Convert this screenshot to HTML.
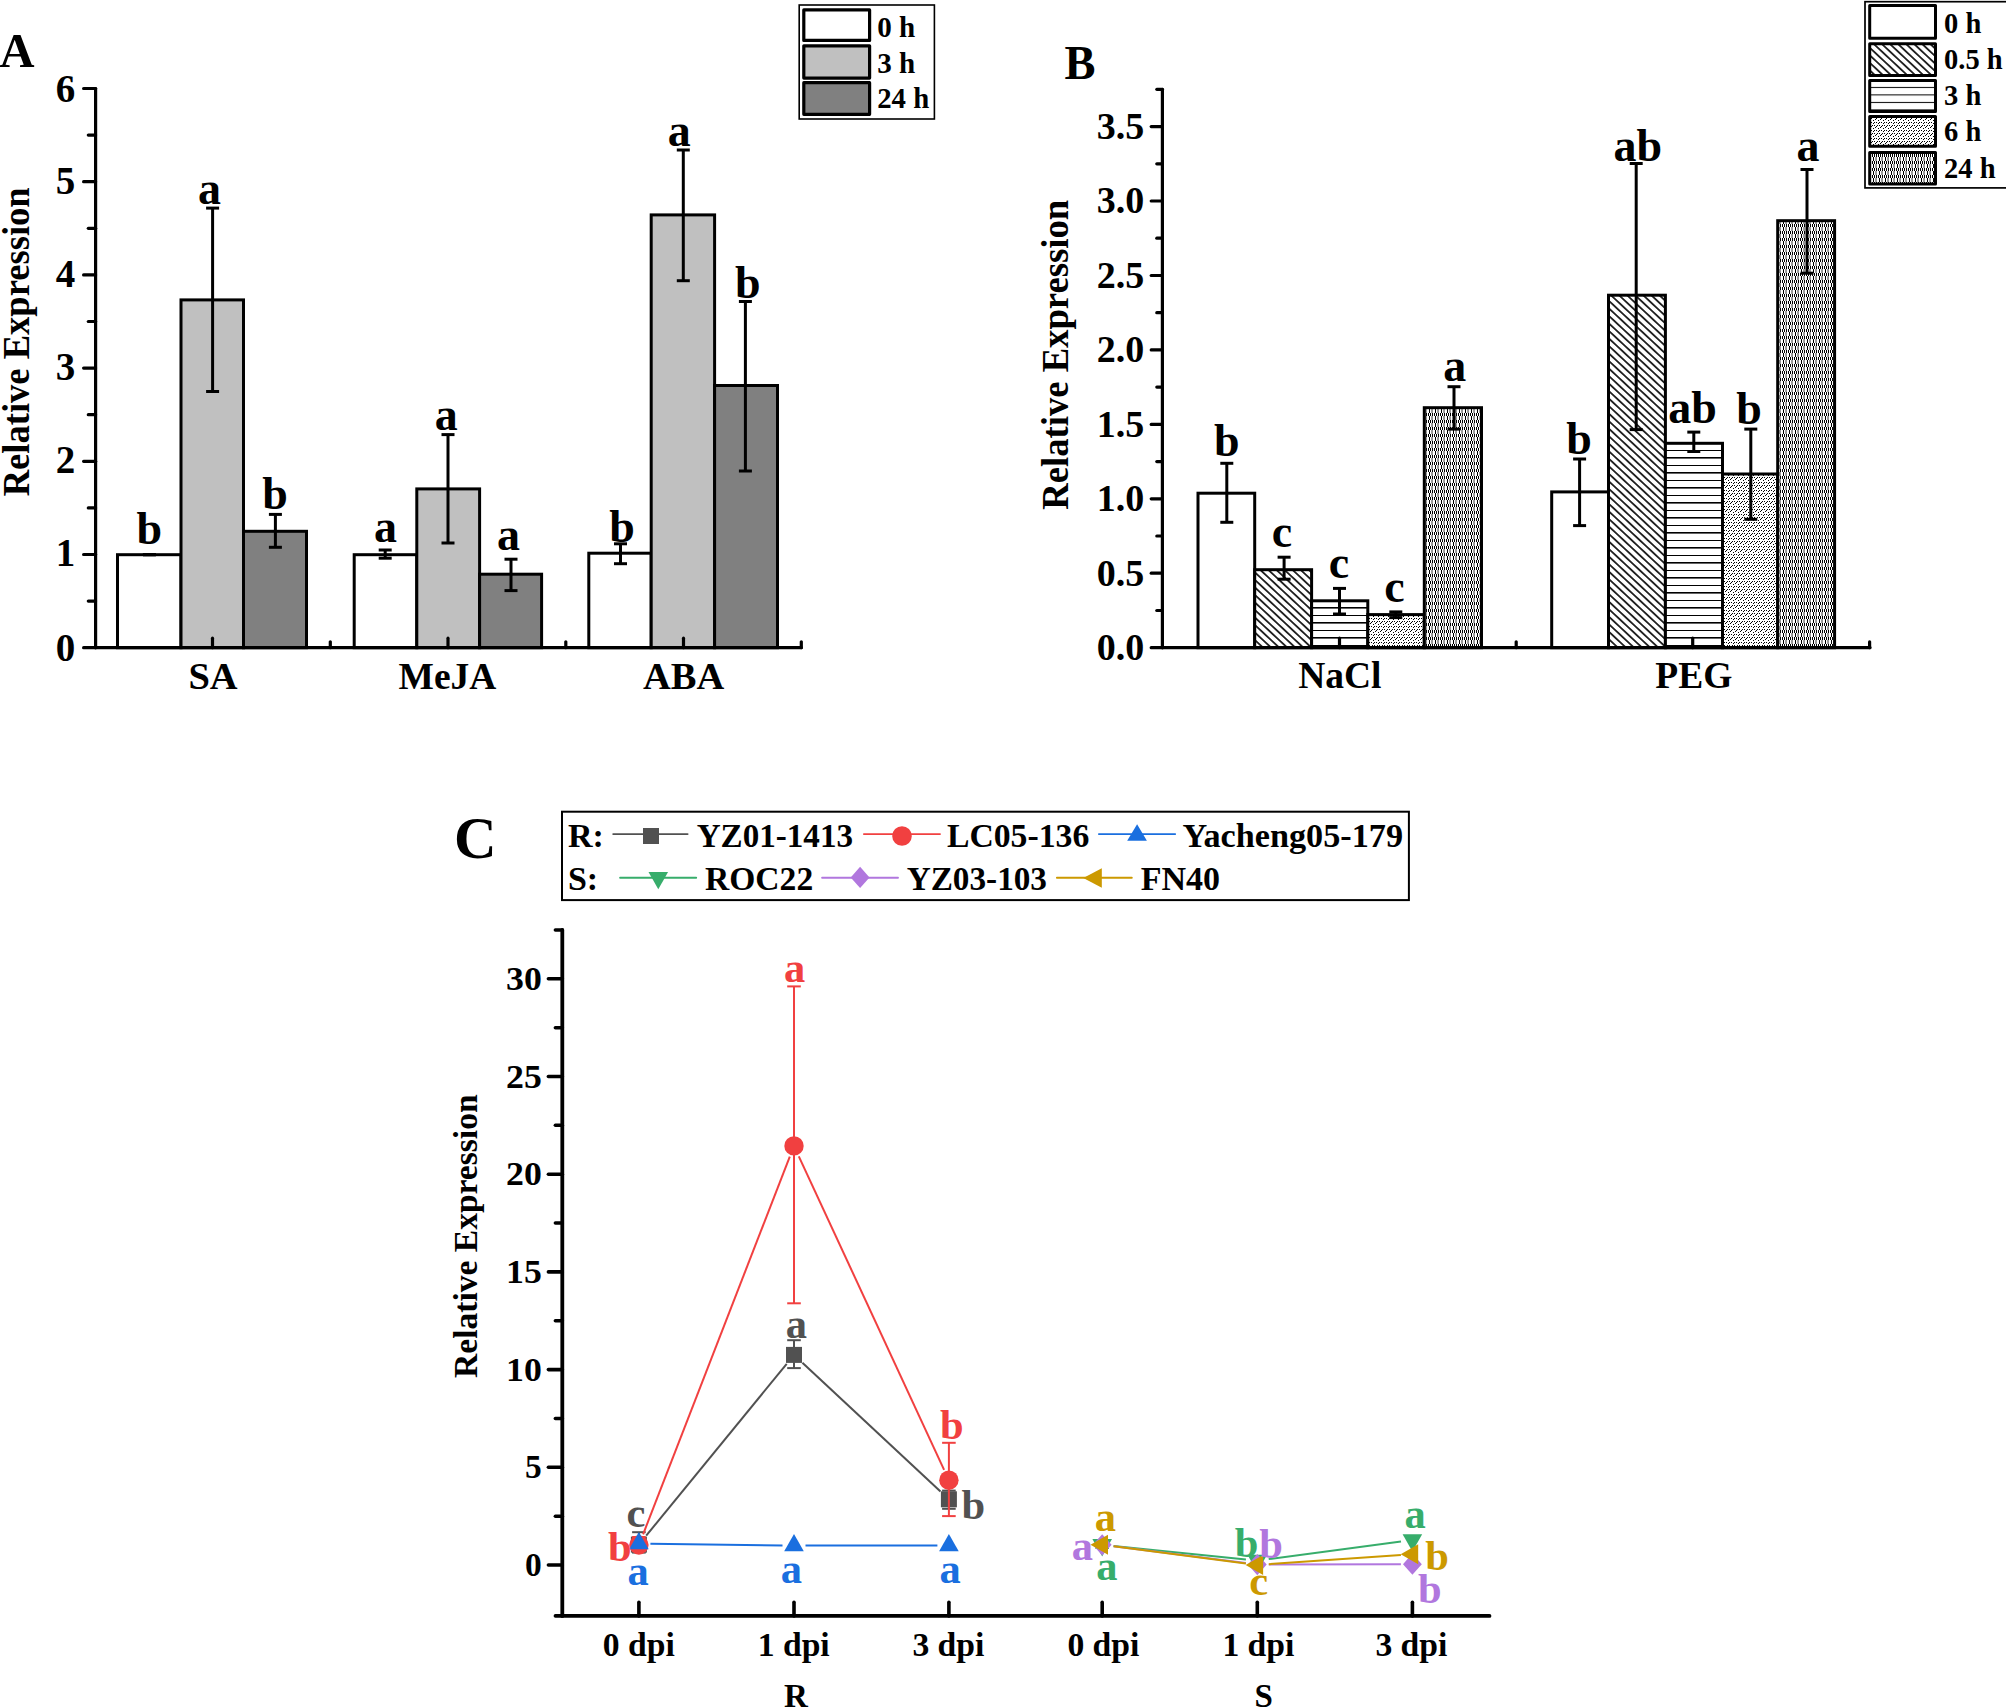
<!DOCTYPE html>
<html lang="en">
<head>
<meta charset="utf-8">
<title>Relative Expression figure</title>
<style>
html,body{margin:0;padding:0;background:#fff;}
body{width:2006px;height:1707px;overflow:hidden;}
svg{display:block;}
svg text{font-family:"Liberation Serif", serif;font-weight:bold;}
</style>
</head>
<body>
<svg width="2006" height="1707" viewBox="0 0 2006 1707">
<rect x="0" y="0" width="2006" height="1707" fill="#fff"/>
<defs>
<pattern id="pDiag" width="12" height="5.5" patternUnits="userSpaceOnUse" patternTransform="rotate(43)">
<rect width="12" height="5.5" fill="#fff"/><line x1="0" y1="2.75" x2="12" y2="2.75" stroke="#000" stroke-width="1.6"/></pattern>
<pattern id="pHor" width="12" height="15" patternUnits="userSpaceOnUse" patternTransform="translate(0,7)">
<rect width="12" height="15" fill="#fff"/><rect x="0" y="0" width="12" height="1.6" fill="#000"/><rect x="0" y="8" width="12" height="1" fill="#000"/></pattern>
<pattern id="pHorL" width="12" height="7.5" patternUnits="userSpaceOnUse" patternTransform="translate(0,4.4)">
<rect width="12" height="7.5" fill="#fff"/><rect x="0" y="0" width="12" height="1" fill="#000"/></pattern>
<pattern id="pDot" width="5" height="8" patternUnits="userSpaceOnUse">
<rect width="5" height="8" fill="#fff"/><g fill="#000" shape-rendering="crispEdges"><rect x="0" y="7" width="1" height="1"/><rect x="1" y="6" width="1" height="1"/><rect x="2" y="5" width="1" height="1"/><rect x="3" y="3" width="1" height="1"/><rect x="4" y="2" width="1" height="1"/><rect x="1" y="2" width="1" height="1"/><rect x="3" y="0" width="1" height="1"/><rect x="4" y="5" width="1" height="1"/></g></pattern>
<pattern id="pChk" width="6" height="7" patternUnits="userSpaceOnUse">
<rect width="6" height="7" fill="#fff"/><g fill="#000"><rect x="0" y="0" width="1" height="3"/><rect x="2" y="0" width="1" height="3"/><rect x="4" y="0" width="1" height="3"/><rect x="1" y="3" width="1" height="4"/><rect x="3.6" y="3" width="0.8" height="4"/></g></pattern>
</defs>
<g id="panelA">
<rect x="117.5" y="554.7" width="63.5" height="93.0" fill="#fff" stroke="#000" stroke-width="3.0"/>
<rect x="181.0" y="299.9" width="62.5" height="347.8" fill="#c0c0c0" stroke="#000" stroke-width="3.0"/>
<rect x="243.5" y="531.3" width="63.0" height="116.4" fill="#808080" stroke="#000" stroke-width="3.0"/>
<rect x="354.2" y="554.7" width="62.6" height="93.0" fill="#fff" stroke="#000" stroke-width="3.0"/>
<rect x="416.8" y="488.9" width="62.8" height="158.8" fill="#c0c0c0" stroke="#000" stroke-width="3.0"/>
<rect x="479.6" y="574.2" width="62.0" height="73.5" fill="#808080" stroke="#000" stroke-width="3.0"/>
<rect x="588.8" y="553.2" width="62.4" height="94.5" fill="#fff" stroke="#000" stroke-width="3.0"/>
<rect x="651.2" y="214.9" width="63.4" height="432.8" fill="#c0c0c0" stroke="#000" stroke-width="3.0"/>
<rect x="714.6" y="385.5" width="62.9" height="262.2" fill="#808080" stroke="#000" stroke-width="3.0"/>
<line x1="149.4" y1="554.7" x2="149.4" y2="554.7" stroke="#000" stroke-width="3.0" stroke-linecap="butt"/>
<line x1="142.9" y1="554.7" x2="155.9" y2="554.7" stroke="#000" stroke-width="3.0" stroke-linecap="butt"/>
<line x1="142.9" y1="554.7" x2="155.9" y2="554.7" stroke="#000" stroke-width="3.0" stroke-linecap="butt"/>
<line x1="212.6" y1="208.1" x2="212.6" y2="391.5" stroke="#000" stroke-width="3.0" stroke-linecap="butt"/>
<line x1="206.1" y1="208.1" x2="219.1" y2="208.1" stroke="#000" stroke-width="3.0" stroke-linecap="butt"/>
<line x1="206.1" y1="391.5" x2="219.1" y2="391.5" stroke="#000" stroke-width="3.0" stroke-linecap="butt"/>
<line x1="275.4" y1="514.4" x2="275.4" y2="547.3" stroke="#000" stroke-width="3.0" stroke-linecap="butt"/>
<line x1="268.9" y1="514.4" x2="281.9" y2="514.4" stroke="#000" stroke-width="3.0" stroke-linecap="butt"/>
<line x1="268.9" y1="547.3" x2="281.9" y2="547.3" stroke="#000" stroke-width="3.0" stroke-linecap="butt"/>
<line x1="385.2" y1="550.0" x2="385.2" y2="558.2" stroke="#000" stroke-width="3.0" stroke-linecap="butt"/>
<line x1="378.7" y1="550.0" x2="391.7" y2="550.0" stroke="#000" stroke-width="3.0" stroke-linecap="butt"/>
<line x1="378.7" y1="558.2" x2="391.7" y2="558.2" stroke="#000" stroke-width="3.0" stroke-linecap="butt"/>
<line x1="448.0" y1="434.6" x2="448.0" y2="543.0" stroke="#000" stroke-width="3.0" stroke-linecap="butt"/>
<line x1="441.5" y1="434.6" x2="454.5" y2="434.6" stroke="#000" stroke-width="3.0" stroke-linecap="butt"/>
<line x1="441.5" y1="543.0" x2="454.5" y2="543.0" stroke="#000" stroke-width="3.0" stroke-linecap="butt"/>
<line x1="511.0" y1="559.2" x2="511.0" y2="590.6" stroke="#000" stroke-width="3.0" stroke-linecap="butt"/>
<line x1="504.5" y1="559.2" x2="517.5" y2="559.2" stroke="#000" stroke-width="3.0" stroke-linecap="butt"/>
<line x1="504.5" y1="590.6" x2="517.5" y2="590.6" stroke="#000" stroke-width="3.0" stroke-linecap="butt"/>
<line x1="620.5" y1="543.8" x2="620.5" y2="563.7" stroke="#000" stroke-width="3.0" stroke-linecap="butt"/>
<line x1="614.0" y1="543.8" x2="627.0" y2="543.8" stroke="#000" stroke-width="3.0" stroke-linecap="butt"/>
<line x1="614.0" y1="563.7" x2="627.0" y2="563.7" stroke="#000" stroke-width="3.0" stroke-linecap="butt"/>
<line x1="683.3" y1="150.0" x2="683.3" y2="280.7" stroke="#000" stroke-width="3.0" stroke-linecap="butt"/>
<line x1="676.8" y1="150.0" x2="689.8" y2="150.0" stroke="#000" stroke-width="3.0" stroke-linecap="butt"/>
<line x1="676.8" y1="280.7" x2="689.8" y2="280.7" stroke="#000" stroke-width="3.0" stroke-linecap="butt"/>
<line x1="745.4" y1="301.5" x2="745.4" y2="471.0" stroke="#000" stroke-width="3.0" stroke-linecap="butt"/>
<line x1="738.9" y1="301.5" x2="751.9" y2="301.5" stroke="#000" stroke-width="3.0" stroke-linecap="butt"/>
<line x1="738.9" y1="471.0" x2="751.9" y2="471.0" stroke="#000" stroke-width="3.0" stroke-linecap="butt"/>
<line x1="95.6" y1="88.5" x2="95.6" y2="647.7" stroke="#000" stroke-width="3.2" stroke-linecap="round"/>
<line x1="95.6" y1="647.7" x2="801.3" y2="647.7" stroke="#000" stroke-width="3.2" stroke-linecap="round"/>
<line x1="83.6" y1="647.7" x2="95.6" y2="647.7" stroke="#000" stroke-width="3.2" stroke-linecap="round"/>
<line x1="88.3" y1="601.1" x2="95.6" y2="601.1" stroke="#000" stroke-width="3.2" stroke-linecap="round"/>
<line x1="83.6" y1="554.5" x2="95.6" y2="554.5" stroke="#000" stroke-width="3.2" stroke-linecap="round"/>
<line x1="88.3" y1="507.9" x2="95.6" y2="507.9" stroke="#000" stroke-width="3.2" stroke-linecap="round"/>
<line x1="83.6" y1="461.3" x2="95.6" y2="461.3" stroke="#000" stroke-width="3.2" stroke-linecap="round"/>
<line x1="88.3" y1="414.7" x2="95.6" y2="414.7" stroke="#000" stroke-width="3.2" stroke-linecap="round"/>
<line x1="83.6" y1="368.1" x2="95.6" y2="368.1" stroke="#000" stroke-width="3.2" stroke-linecap="round"/>
<line x1="88.3" y1="321.5" x2="95.6" y2="321.5" stroke="#000" stroke-width="3.2" stroke-linecap="round"/>
<line x1="83.6" y1="274.9" x2="95.6" y2="274.9" stroke="#000" stroke-width="3.2" stroke-linecap="round"/>
<line x1="88.3" y1="228.3" x2="95.6" y2="228.3" stroke="#000" stroke-width="3.2" stroke-linecap="round"/>
<line x1="83.6" y1="181.7" x2="95.6" y2="181.7" stroke="#000" stroke-width="3.2" stroke-linecap="round"/>
<line x1="88.3" y1="135.1" x2="95.6" y2="135.1" stroke="#000" stroke-width="3.2" stroke-linecap="round"/>
<line x1="83.6" y1="88.5" x2="95.6" y2="88.5" stroke="#000" stroke-width="3.2" stroke-linecap="round"/>
<line x1="212.5" y1="647.7" x2="212.5" y2="638.2" stroke="#000" stroke-width="3.2" stroke-linecap="round"/>
<line x1="448.0" y1="647.7" x2="448.0" y2="638.2" stroke="#000" stroke-width="3.2" stroke-linecap="round"/>
<line x1="683.5" y1="647.7" x2="683.5" y2="638.2" stroke="#000" stroke-width="3.2" stroke-linecap="round"/>
<line x1="330.3" y1="647.7" x2="330.3" y2="641.8" stroke="#000" stroke-width="3.2" stroke-linecap="round"/>
<line x1="565.8" y1="647.7" x2="565.8" y2="641.8" stroke="#000" stroke-width="3.2" stroke-linecap="round"/>
<line x1="801.3" y1="647.7" x2="801.3" y2="641.8" stroke="#000" stroke-width="3.2" stroke-linecap="round"/>
<text x="75.3" y="660.6" font-size="39" text-anchor="end">0</text>
<text x="75.3" y="566.2" font-size="39" text-anchor="end">1</text>
<text x="75.3" y="473.3" font-size="39" text-anchor="end">2</text>
<text x="75.3" y="380.3" font-size="39" text-anchor="end">3</text>
<text x="75.3" y="287.1" font-size="39" text-anchor="end">4</text>
<text x="75.3" y="194.4" font-size="39" text-anchor="end">5</text>
<text x="75.3" y="101.5" font-size="39" text-anchor="end">6</text>
<text x="213.0" y="689.4" font-size="38.5" text-anchor="middle">SA</text>
<text x="447.5" y="689.4" font-size="38.5" text-anchor="middle" textLength="97.8" lengthAdjust="spacingAndGlyphs">MeJA</text>
<text x="683.7" y="689.4" font-size="38.5" text-anchor="middle">ABA</text>
<text transform="translate(29.3 496.3) rotate(-90)" font-size="37" textLength="309" lengthAdjust="spacingAndGlyphs">Relative Expression</text>
<text x="149.2" y="543.6" font-size="46" text-anchor="middle">b</text>
<text x="209.4" y="204.0" font-size="46" text-anchor="middle">a</text>
<text x="275.0" y="509.2" font-size="46" text-anchor="middle">b</text>
<text x="385.6" y="541.8" font-size="46" text-anchor="middle">a</text>
<text x="446.2" y="429.6" font-size="46" text-anchor="middle">a</text>
<text x="508.6" y="550.0" font-size="46" text-anchor="middle">a</text>
<text x="622.0" y="541.6" font-size="46" text-anchor="middle">b</text>
<text x="679.2" y="146.0" font-size="46" text-anchor="middle">a</text>
<text x="747.7" y="298.2" font-size="46" text-anchor="middle">b</text>
<text x="-0.5" y="66.7" font-size="48.5">A</text>
<rect x="799.2" y="5.0" width="135.2" height="114.0" fill="#fff" stroke="#000" stroke-width="1.6"/>
<rect x="803.8" y="9.9" width="65.8" height="30.5" fill="#fff" stroke="#000" stroke-width="3.2" stroke-linejoin="round"/>
<text x="877.2" y="36.6" font-size="28.5" textLength="38.0" lengthAdjust="spacingAndGlyphs">0 h</text>
<rect x="803.8" y="45.8" width="65.8" height="32.3" fill="#c0c0c0" stroke="#000" stroke-width="3.2" stroke-linejoin="round"/>
<text x="877.2" y="73.0" font-size="28.5" textLength="38.0" lengthAdjust="spacingAndGlyphs">3 h</text>
<rect x="803.8" y="82.7" width="65.8" height="31.6" fill="#808080" stroke="#000" stroke-width="3.2" stroke-linejoin="round"/>
<text x="877.2" y="108.4" font-size="28.5" textLength="52.0" lengthAdjust="spacingAndGlyphs">24 h</text>
</g>
<g id="panelB">
<rect x="1198.0" y="493.2" width="56.7" height="154.5" fill="#fff" stroke="#000" stroke-width="3.0"/>
<rect x="1254.7" y="569.7" width="56.9" height="78.0" fill="url(#pDiag)" stroke="#000" stroke-width="3.0"/>
<rect x="1311.6" y="600.8" width="56.2" height="46.9" fill="url(#pHor)" stroke="#000" stroke-width="3.0"/>
<rect x="1367.8" y="614.6" width="56.5" height="33.1" fill="url(#pDot)" stroke="#000" stroke-width="3.0"/>
<rect x="1424.3" y="407.7" width="57.2" height="240.0" fill="url(#pChk)" stroke="#000" stroke-width="3.0"/>
<rect x="1551.7" y="491.9" width="56.8" height="155.8" fill="#fff" stroke="#000" stroke-width="3.0"/>
<rect x="1608.5" y="295.2" width="56.9" height="352.5" fill="url(#pDiag)" stroke="#000" stroke-width="3.0"/>
<rect x="1665.4" y="443.3" width="57.1" height="204.4" fill="url(#pHor)" stroke="#000" stroke-width="3.0"/>
<rect x="1722.5" y="474.0" width="55.2" height="173.7" fill="url(#pDot)" stroke="#000" stroke-width="3.0"/>
<rect x="1777.7" y="220.7" width="56.9" height="427.0" fill="url(#pChk)" stroke="#000" stroke-width="3.0"/>
<line x1="1226.8" y1="463.3" x2="1226.8" y2="522.3" stroke="#000" stroke-width="3.0" stroke-linecap="butt"/>
<line x1="1220.3" y1="463.3" x2="1233.3" y2="463.3" stroke="#000" stroke-width="3.0" stroke-linecap="butt"/>
<line x1="1220.3" y1="522.3" x2="1233.3" y2="522.3" stroke="#000" stroke-width="3.0" stroke-linecap="butt"/>
<line x1="1284.1" y1="557.2" x2="1284.1" y2="579.2" stroke="#000" stroke-width="3.0" stroke-linecap="butt"/>
<line x1="1277.6" y1="557.2" x2="1290.6" y2="557.2" stroke="#000" stroke-width="3.0" stroke-linecap="butt"/>
<line x1="1277.6" y1="579.2" x2="1290.6" y2="579.2" stroke="#000" stroke-width="3.0" stroke-linecap="butt"/>
<line x1="1339.5" y1="588.4" x2="1339.5" y2="614.0" stroke="#000" stroke-width="3.0" stroke-linecap="butt"/>
<line x1="1333.0" y1="588.4" x2="1346.0" y2="588.4" stroke="#000" stroke-width="3.0" stroke-linecap="butt"/>
<line x1="1333.0" y1="614.0" x2="1346.0" y2="614.0" stroke="#000" stroke-width="3.0" stroke-linecap="butt"/>
<line x1="1395.8" y1="611.9" x2="1395.8" y2="617.6" stroke="#000" stroke-width="3.0" stroke-linecap="butt"/>
<line x1="1389.3" y1="611.9" x2="1402.3" y2="611.9" stroke="#000" stroke-width="3.0" stroke-linecap="butt"/>
<line x1="1389.3" y1="617.6" x2="1402.3" y2="617.6" stroke="#000" stroke-width="3.0" stroke-linecap="butt"/>
<line x1="1454.0" y1="386.7" x2="1454.0" y2="429.1" stroke="#000" stroke-width="3.0" stroke-linecap="butt"/>
<line x1="1447.5" y1="386.7" x2="1460.5" y2="386.7" stroke="#000" stroke-width="3.0" stroke-linecap="butt"/>
<line x1="1447.5" y1="429.1" x2="1460.5" y2="429.1" stroke="#000" stroke-width="3.0" stroke-linecap="butt"/>
<line x1="1579.6" y1="459.0" x2="1579.6" y2="525.6" stroke="#000" stroke-width="3.0" stroke-linecap="butt"/>
<line x1="1573.1" y1="459.0" x2="1586.1" y2="459.0" stroke="#000" stroke-width="3.0" stroke-linecap="butt"/>
<line x1="1573.1" y1="525.6" x2="1586.1" y2="525.6" stroke="#000" stroke-width="3.0" stroke-linecap="butt"/>
<line x1="1636.2" y1="163.5" x2="1636.2" y2="429.6" stroke="#000" stroke-width="3.0" stroke-linecap="butt"/>
<line x1="1629.7" y1="163.5" x2="1642.7" y2="163.5" stroke="#000" stroke-width="3.0" stroke-linecap="butt"/>
<line x1="1629.7" y1="429.6" x2="1642.7" y2="429.6" stroke="#000" stroke-width="3.0" stroke-linecap="butt"/>
<line x1="1693.8" y1="432.1" x2="1693.8" y2="451.5" stroke="#000" stroke-width="3.0" stroke-linecap="butt"/>
<line x1="1687.3" y1="432.1" x2="1700.3" y2="432.1" stroke="#000" stroke-width="3.0" stroke-linecap="butt"/>
<line x1="1687.3" y1="451.5" x2="1700.3" y2="451.5" stroke="#000" stroke-width="3.0" stroke-linecap="butt"/>
<line x1="1750.8" y1="429.1" x2="1750.8" y2="519.3" stroke="#000" stroke-width="3.0" stroke-linecap="butt"/>
<line x1="1744.3" y1="429.1" x2="1757.3" y2="429.1" stroke="#000" stroke-width="3.0" stroke-linecap="butt"/>
<line x1="1744.3" y1="519.3" x2="1757.3" y2="519.3" stroke="#000" stroke-width="3.0" stroke-linecap="butt"/>
<line x1="1807.0" y1="169.5" x2="1807.0" y2="273.2" stroke="#000" stroke-width="3.0" stroke-linecap="butt"/>
<line x1="1800.5" y1="169.5" x2="1813.5" y2="169.5" stroke="#000" stroke-width="3.0" stroke-linecap="butt"/>
<line x1="1800.5" y1="273.2" x2="1813.5" y2="273.2" stroke="#000" stroke-width="3.0" stroke-linecap="butt"/>
<line x1="1162.4" y1="89.3" x2="1162.4" y2="647.7" stroke="#000" stroke-width="3.2" stroke-linecap="round"/>
<line x1="1162.4" y1="647.7" x2="1870.0" y2="647.7" stroke="#000" stroke-width="3.2" stroke-linecap="round"/>
<line x1="1151.2" y1="647.7" x2="1162.4" y2="647.7" stroke="#000" stroke-width="3.2" stroke-linecap="round"/>
<line x1="1156.8" y1="610.5" x2="1162.4" y2="610.5" stroke="#000" stroke-width="3.2" stroke-linecap="round"/>
<line x1="1151.2" y1="573.2" x2="1162.4" y2="573.2" stroke="#000" stroke-width="3.2" stroke-linecap="round"/>
<line x1="1156.8" y1="536.0" x2="1162.4" y2="536.0" stroke="#000" stroke-width="3.2" stroke-linecap="round"/>
<line x1="1151.2" y1="498.8" x2="1162.4" y2="498.8" stroke="#000" stroke-width="3.2" stroke-linecap="round"/>
<line x1="1156.8" y1="461.6" x2="1162.4" y2="461.6" stroke="#000" stroke-width="3.2" stroke-linecap="round"/>
<line x1="1151.2" y1="424.4" x2="1162.4" y2="424.4" stroke="#000" stroke-width="3.2" stroke-linecap="round"/>
<line x1="1156.8" y1="387.1" x2="1162.4" y2="387.1" stroke="#000" stroke-width="3.2" stroke-linecap="round"/>
<line x1="1151.2" y1="349.9" x2="1162.4" y2="349.9" stroke="#000" stroke-width="3.2" stroke-linecap="round"/>
<line x1="1156.8" y1="312.7" x2="1162.4" y2="312.7" stroke="#000" stroke-width="3.2" stroke-linecap="round"/>
<line x1="1151.2" y1="275.5" x2="1162.4" y2="275.5" stroke="#000" stroke-width="3.2" stroke-linecap="round"/>
<line x1="1156.8" y1="238.2" x2="1162.4" y2="238.2" stroke="#000" stroke-width="3.2" stroke-linecap="round"/>
<line x1="1151.2" y1="201.0" x2="1162.4" y2="201.0" stroke="#000" stroke-width="3.2" stroke-linecap="round"/>
<line x1="1156.8" y1="163.8" x2="1162.4" y2="163.8" stroke="#000" stroke-width="3.2" stroke-linecap="round"/>
<line x1="1151.2" y1="126.6" x2="1162.4" y2="126.6" stroke="#000" stroke-width="3.2" stroke-linecap="round"/>
<line x1="1156.8" y1="89.3" x2="1162.4" y2="89.3" stroke="#000" stroke-width="3.2" stroke-linecap="round"/>
<line x1="1339.5" y1="647.7" x2="1339.5" y2="638.2" stroke="#000" stroke-width="3.2" stroke-linecap="round"/>
<line x1="1692.7" y1="647.7" x2="1692.7" y2="638.2" stroke="#000" stroke-width="3.2" stroke-linecap="round"/>
<line x1="1516.2" y1="647.7" x2="1516.2" y2="641.8" stroke="#000" stroke-width="3.2" stroke-linecap="round"/>
<line x1="1869.6" y1="647.7" x2="1869.6" y2="641.8" stroke="#000" stroke-width="3.2" stroke-linecap="round"/>
<text x="1144.2" y="660.1" font-size="38" text-anchor="end">0.0</text>
<text x="1144.2" y="585.6" font-size="38" text-anchor="end">0.5</text>
<text x="1144.2" y="511.2" font-size="38" text-anchor="end">1.0</text>
<text x="1144.2" y="436.8" font-size="38" text-anchor="end">1.5</text>
<text x="1144.2" y="362.3" font-size="38" text-anchor="end">2.0</text>
<text x="1144.2" y="287.9" font-size="38" text-anchor="end">2.5</text>
<text x="1144.2" y="213.4" font-size="38" text-anchor="end">3.0</text>
<text x="1144.2" y="139.0" font-size="38" text-anchor="end">3.5</text>
<text x="1339.8" y="688.3" font-size="37.5" text-anchor="middle">NaCl</text>
<text x="1693.8" y="688.3" font-size="37.5" text-anchor="middle">PEG</text>
<text transform="translate(1067.9 509.8) rotate(-90)" font-size="37" textLength="310" lengthAdjust="spacingAndGlyphs">Relative Expression</text>
<text x="1226.8" y="455.8" font-size="46" text-anchor="middle">b</text>
<text x="1282.0" y="546.8" font-size="46" text-anchor="middle">c</text>
<text x="1339.0" y="578.0" font-size="46" text-anchor="middle">c</text>
<text x="1394.5" y="602.0" font-size="46" text-anchor="middle">c</text>
<text x="1454.7" y="380.9" font-size="46" text-anchor="middle">a</text>
<text x="1579.0" y="454.0" font-size="46" text-anchor="middle">b</text>
<text x="1637.7" y="161.0" font-size="46" text-anchor="middle">ab</text>
<text x="1692.6" y="422.6" font-size="46" text-anchor="middle">ab</text>
<text x="1749.0" y="423.9" font-size="46" text-anchor="middle">b</text>
<text x="1808.0" y="161.0" font-size="46" text-anchor="middle">a</text>
<text x="1064.4" y="78.6" font-size="49" textLength="31.0" lengthAdjust="spacingAndGlyphs">B</text>
<rect x="1865.0" y="1.7" width="160.0" height="186.2" fill="#fff" stroke="#000" stroke-width="1.7"/>
<rect x="1869.7" y="5.6" width="65.8" height="32.7" fill="#fff" stroke="#000" stroke-width="3.0" stroke-linejoin="round"/>
<text x="1944.0" y="32.8" font-size="28.5">0 h</text>
<rect x="1869.7" y="43.7" width="65.8" height="31.7" fill="url(#pDiag)" stroke="#000" stroke-width="3.0" stroke-linejoin="round"/>
<text x="1944.0" y="68.9" font-size="28.5">0.5 h</text>
<rect x="1869.7" y="80.6" width="65.8" height="30.8" fill="url(#pHorL)" stroke="#000" stroke-width="3.0" stroke-linejoin="round"/>
<text x="1944.0" y="104.7" font-size="28.5">3 h</text>
<rect x="1869.7" y="116.4" width="65.8" height="29.8" fill="url(#pDot)" stroke="#000" stroke-width="3.0" stroke-linejoin="round"/>
<text x="1944.0" y="141.3" font-size="28.5">6 h</text>
<rect x="1869.7" y="152.5" width="65.8" height="31.4" fill="url(#pChk)" stroke="#000" stroke-width="3.0" stroke-linejoin="round"/>
<text x="1944.0" y="178.4" font-size="28.5">24 h</text>
</g>
<g id="panelC">
<line x1="646.2" y1="1535.7" x2="786.7" y2="1363.8" stroke="#515151" stroke-width="2.0" stroke-linecap="butt"/>
<line x1="802.4" y1="1362.7" x2="940.5" y2="1491.5" stroke="#515151" stroke-width="2.0" stroke-linecap="butt"/>
<line x1="638.9" y1="1532.2" x2="638.9" y2="1552.6" stroke="#515151" stroke-width="2.0" stroke-linecap="butt"/>
<line x1="632.1" y1="1532.2" x2="645.7" y2="1532.2" stroke="#515151" stroke-width="2.0" stroke-linecap="butt"/>
<line x1="632.1" y1="1552.6" x2="645.7" y2="1552.6" stroke="#515151" stroke-width="2.0" stroke-linecap="butt"/>
<line x1="794.0" y1="1340.2" x2="794.0" y2="1368.1" stroke="#515151" stroke-width="2.0" stroke-linecap="butt"/>
<line x1="787.2" y1="1340.2" x2="800.8" y2="1340.2" stroke="#515151" stroke-width="2.0" stroke-linecap="butt"/>
<line x1="787.2" y1="1368.1" x2="800.8" y2="1368.1" stroke="#515151" stroke-width="2.0" stroke-linecap="butt"/>
<line x1="948.9" y1="1490.6" x2="948.9" y2="1508.8" stroke="#515151" stroke-width="2.0" stroke-linecap="butt"/>
<line x1="942.1" y1="1490.6" x2="955.7" y2="1490.6" stroke="#515151" stroke-width="2.0" stroke-linecap="butt"/>
<line x1="942.1" y1="1508.8" x2="955.7" y2="1508.8" stroke="#515151" stroke-width="2.0" stroke-linecap="butt"/>
<rect x="630.9" y="1536.6" width="16.0" height="16.0" fill="#515151"/>
<rect x="786.0" y="1346.9" width="16.0" height="16.0" fill="#515151"/>
<rect x="940.9" y="1491.3" width="16.0" height="16.0" fill="#515151"/>
<line x1="643.1" y1="1534.3" x2="789.8" y2="1156.6" stroke="#f14040" stroke-width="2.0" stroke-linecap="butt"/>
<line x1="798.8" y1="1156.3" x2="944.1" y2="1469.8" stroke="#f14040" stroke-width="2.0" stroke-linecap="butt"/>
<line x1="638.9" y1="1537.0" x2="638.9" y2="1550.5" stroke="#f14040" stroke-width="2.0" stroke-linecap="butt"/>
<line x1="632.1" y1="1537.0" x2="645.7" y2="1537.0" stroke="#f14040" stroke-width="2.0" stroke-linecap="butt"/>
<line x1="632.1" y1="1550.5" x2="645.7" y2="1550.5" stroke="#f14040" stroke-width="2.0" stroke-linecap="butt"/>
<line x1="794.0" y1="986.4" x2="794.0" y2="1303.3" stroke="#f14040" stroke-width="2.0" stroke-linecap="butt"/>
<line x1="787.2" y1="986.4" x2="800.8" y2="986.4" stroke="#f14040" stroke-width="2.0" stroke-linecap="butt"/>
<line x1="787.2" y1="1303.3" x2="800.8" y2="1303.3" stroke="#f14040" stroke-width="2.0" stroke-linecap="butt"/>
<line x1="948.9" y1="1442.8" x2="948.9" y2="1516.1" stroke="#f14040" stroke-width="2.0" stroke-linecap="butt"/>
<line x1="942.1" y1="1442.8" x2="955.7" y2="1442.8" stroke="#f14040" stroke-width="2.0" stroke-linecap="butt"/>
<line x1="942.1" y1="1516.1" x2="955.7" y2="1516.1" stroke="#f14040" stroke-width="2.0" stroke-linecap="butt"/>
<circle cx="638.9" cy="1545.0" r="9.7" fill="#f14040"/>
<circle cx="794.0" cy="1145.9" r="9.7" fill="#f14040"/>
<circle cx="948.9" cy="1480.2" r="9.7" fill="#f14040"/>
<line x1="650.4" y1="1543.7" x2="782.5" y2="1545.5" stroke="#1a6fdf" stroke-width="2.0" stroke-linecap="butt"/>
<line x1="805.5" y1="1545.6" x2="937.4" y2="1545.6" stroke="#1a6fdf" stroke-width="2.0" stroke-linecap="butt"/>
<polygon points="638.9,1532.1 629.1,1549.3 648.7,1549.3" fill="#1a6fdf"/>
<polygon points="794.0,1534.1 784.2,1551.3 803.8,1551.3" fill="#1a6fdf"/>
<polygon points="948.9,1534.1 939.1,1551.3 958.7,1551.3" fill="#1a6fdf"/>
<line x1="1113.6" y1="1546.0" x2="1245.9" y2="1559.4" stroke="#37ad6b" stroke-width="2.0" stroke-linecap="butt"/>
<line x1="1268.7" y1="1559.1" x2="1401.0" y2="1541.5" stroke="#37ad6b" stroke-width="2.0" stroke-linecap="butt"/>
<line x1="1102.2" y1="1541.5" x2="1102.2" y2="1548.0" stroke="#37ad6b" stroke-width="2.0" stroke-linecap="butt"/>
<line x1="1095.4" y1="1541.5" x2="1109.0" y2="1541.5" stroke="#37ad6b" stroke-width="2.0" stroke-linecap="butt"/>
<line x1="1095.4" y1="1548.0" x2="1109.0" y2="1548.0" stroke="#37ad6b" stroke-width="2.0" stroke-linecap="butt"/>
<line x1="1257.3" y1="1557.8" x2="1257.3" y2="1563.4" stroke="#37ad6b" stroke-width="2.0" stroke-linecap="butt"/>
<line x1="1250.5" y1="1557.8" x2="1264.1" y2="1557.8" stroke="#37ad6b" stroke-width="2.0" stroke-linecap="butt"/>
<line x1="1250.5" y1="1563.4" x2="1264.1" y2="1563.4" stroke="#37ad6b" stroke-width="2.0" stroke-linecap="butt"/>
<polygon points="1102.2,1556.4 1092.4,1539.0 1112.0,1539.0" fill="#37ad6b"/>
<polygon points="1257.3,1572.2 1247.5,1554.8 1267.1,1554.8" fill="#37ad6b"/>
<polygon points="1412.4,1551.6 1402.6,1534.2 1422.2,1534.2" fill="#37ad6b"/>
<line x1="1113.6" y1="1546.3" x2="1245.9" y2="1563.1" stroke="#b177de" stroke-width="2.0" stroke-linecap="butt"/>
<line x1="1268.8" y1="1564.6" x2="1400.9" y2="1564.2" stroke="#b177de" stroke-width="2.0" stroke-linecap="butt"/>
<polygon points="1102.2,1534.2 1111.6,1544.8 1102.2,1555.4 1092.8,1544.8" fill="#b177de"/>
<polygon points="1257.3,1554.0 1266.7,1564.6 1257.3,1575.2 1247.9,1564.6" fill="#b177de"/>
<polygon points="1412.4,1553.6 1421.8,1564.2 1412.4,1574.8 1403.0,1564.2" fill="#b177de"/>
<line x1="1113.6" y1="1546.3" x2="1245.9" y2="1563.5" stroke="#cc9900" stroke-width="2.0" stroke-linecap="butt"/>
<line x1="1268.8" y1="1564.2" x2="1400.9" y2="1555.0" stroke="#cc9900" stroke-width="2.0" stroke-linecap="butt"/>
<polygon points="1090.5,1544.8 1108.0,1534.8 1108.0,1554.8" fill="#cc9900"/>
<polygon points="1245.6,1565.0 1263.1,1555.0 1263.1,1575.0" fill="#cc9900"/>
<polygon points="1400.7,1554.2 1418.2,1544.2 1418.2,1564.2" fill="#cc9900"/>
<line x1="562.3" y1="930.0" x2="562.3" y2="1615.9" stroke="#000" stroke-width="3.8" stroke-linecap="round"/>
<line x1="562.3" y1="1615.9" x2="1489.5" y2="1615.9" stroke="#000" stroke-width="3.8" stroke-linecap="round"/>
<line x1="548.4" y1="1565.0" x2="562.3" y2="1565.0" stroke="#000" stroke-width="3.6" stroke-linecap="round"/>
<line x1="548.4" y1="1467.3" x2="562.3" y2="1467.3" stroke="#000" stroke-width="3.6" stroke-linecap="round"/>
<line x1="548.4" y1="1369.6" x2="562.3" y2="1369.6" stroke="#000" stroke-width="3.6" stroke-linecap="round"/>
<line x1="548.4" y1="1271.9" x2="562.3" y2="1271.9" stroke="#000" stroke-width="3.6" stroke-linecap="round"/>
<line x1="548.4" y1="1174.2" x2="562.3" y2="1174.2" stroke="#000" stroke-width="3.6" stroke-linecap="round"/>
<line x1="548.4" y1="1076.5" x2="562.3" y2="1076.5" stroke="#000" stroke-width="3.6" stroke-linecap="round"/>
<line x1="548.4" y1="978.8" x2="562.3" y2="978.8" stroke="#000" stroke-width="3.6" stroke-linecap="round"/>
<line x1="555.4" y1="1615.9" x2="562.3" y2="1615.9" stroke="#000" stroke-width="3.6" stroke-linecap="round"/>
<line x1="555.4" y1="1516.2" x2="562.3" y2="1516.2" stroke="#000" stroke-width="3.6" stroke-linecap="round"/>
<line x1="555.4" y1="1418.5" x2="562.3" y2="1418.5" stroke="#000" stroke-width="3.6" stroke-linecap="round"/>
<line x1="555.4" y1="1320.8" x2="562.3" y2="1320.8" stroke="#000" stroke-width="3.6" stroke-linecap="round"/>
<line x1="555.4" y1="1223.0" x2="562.3" y2="1223.0" stroke="#000" stroke-width="3.6" stroke-linecap="round"/>
<line x1="555.4" y1="1125.3" x2="562.3" y2="1125.3" stroke="#000" stroke-width="3.6" stroke-linecap="round"/>
<line x1="555.4" y1="1027.7" x2="562.3" y2="1027.7" stroke="#000" stroke-width="3.6" stroke-linecap="round"/>
<line x1="555.4" y1="930.0" x2="562.3" y2="930.0" stroke="#000" stroke-width="3.6" stroke-linecap="round"/>
<line x1="638.9" y1="1615.9" x2="638.9" y2="1602.2" stroke="#000" stroke-width="3.6" stroke-linecap="round"/>
<line x1="794.0" y1="1615.9" x2="794.0" y2="1602.2" stroke="#000" stroke-width="3.6" stroke-linecap="round"/>
<line x1="948.9" y1="1615.9" x2="948.9" y2="1602.2" stroke="#000" stroke-width="3.6" stroke-linecap="round"/>
<line x1="1102.2" y1="1615.9" x2="1102.2" y2="1602.2" stroke="#000" stroke-width="3.6" stroke-linecap="round"/>
<line x1="1257.3" y1="1615.9" x2="1257.3" y2="1602.2" stroke="#000" stroke-width="3.6" stroke-linecap="round"/>
<line x1="1412.4" y1="1615.9" x2="1412.4" y2="1602.2" stroke="#000" stroke-width="3.6" stroke-linecap="round"/>
<text x="541.8" y="1576.0" font-size="33.5" text-anchor="end">0</text>
<text x="541.8" y="1478.3" font-size="33.5" text-anchor="end">5</text>
<text x="541.8" y="1380.6" font-size="33.5" text-anchor="end" textLength="35.8" lengthAdjust="spacingAndGlyphs">10</text>
<text x="541.8" y="1282.9" font-size="33.5" text-anchor="end" textLength="35.8" lengthAdjust="spacingAndGlyphs">15</text>
<text x="541.8" y="1185.2" font-size="33.5" text-anchor="end" textLength="35.8" lengthAdjust="spacingAndGlyphs">20</text>
<text x="541.8" y="1087.5" font-size="33.5" text-anchor="end" textLength="35.8" lengthAdjust="spacingAndGlyphs">25</text>
<text x="541.8" y="989.8" font-size="33.5" text-anchor="end" textLength="35.8" lengthAdjust="spacingAndGlyphs">30</text>
<text x="638.8" y="1655.9" font-size="33" text-anchor="middle" textLength="72.0" lengthAdjust="spacingAndGlyphs">0 dpi</text>
<text x="793.7" y="1655.9" font-size="33" text-anchor="middle" textLength="72.0" lengthAdjust="spacingAndGlyphs">1 dpi</text>
<text x="948.4" y="1655.9" font-size="33" text-anchor="middle" textLength="72.0" lengthAdjust="spacingAndGlyphs">3 dpi</text>
<text x="1103.4" y="1655.9" font-size="33" text-anchor="middle" textLength="72.0" lengthAdjust="spacingAndGlyphs">0 dpi</text>
<text x="1258.4" y="1655.9" font-size="33" text-anchor="middle" textLength="72.0" lengthAdjust="spacingAndGlyphs">1 dpi</text>
<text x="1411.4" y="1655.9" font-size="33" text-anchor="middle" textLength="72.0" lengthAdjust="spacingAndGlyphs">3 dpi</text>
<text x="784.0" y="1706.6" font-size="33">R</text>
<text x="1254.6" y="1706.6" font-size="33">S</text>
<text transform="translate(476.5 1377.9) rotate(-90)" font-size="34.5" textLength="283.5" lengthAdjust="spacingAndGlyphs">Relative Expression</text>
<text x="454.0" y="857.6" font-size="59">C</text>
<text x="794.7" y="982.4" font-size="42.5" text-anchor="middle" fill="#f14040">a</text>
<text x="796.4" y="1337.6" font-size="42.5" text-anchor="middle" fill="#515151">a</text>
<text x="635.9" y="1527.4" font-size="42.5" text-anchor="middle" fill="#515151">c</text>
<text x="619.8" y="1560.6" font-size="42.5" text-anchor="middle" fill="#f14040">b</text>
<text x="638.0" y="1584.6" font-size="42.5" text-anchor="middle" fill="#1a6fdf">a</text>
<text x="791.4" y="1583.0" font-size="42.5" text-anchor="middle" fill="#1a6fdf">a</text>
<text x="950.0" y="1583.0" font-size="42.5" text-anchor="middle" fill="#1a6fdf">a</text>
<text x="951.8" y="1438.7" font-size="42.5" text-anchor="middle" fill="#f14040">b</text>
<text x="973.4" y="1518.5" font-size="42.5" text-anchor="middle" fill="#515151">b</text>
<text x="1105.3" y="1531.1" font-size="42.5" text-anchor="middle" fill="#cc9900">a</text>
<text x="1082.4" y="1559.6" font-size="42.5" text-anchor="middle" fill="#b177de">a</text>
<text x="1106.8" y="1580.3" font-size="42.5" text-anchor="middle" fill="#37ad6b">a</text>
<text x="1246.6" y="1556.5" font-size="42.5" text-anchor="middle" fill="#37ad6b">b</text>
<text x="1271.0" y="1558.0" font-size="42.5" text-anchor="middle" fill="#b177de">b</text>
<text x="1258.8" y="1594.5" font-size="42.5" text-anchor="middle" fill="#cc9900">c</text>
<text x="1415.0" y="1527.5" font-size="42.5" text-anchor="middle" fill="#37ad6b">a</text>
<text x="1437.0" y="1569.9" font-size="42.5" text-anchor="middle" fill="#cc9900">b</text>
<text x="1429.7" y="1602.8" font-size="42.5" text-anchor="middle" fill="#b177de">b</text>
<rect x="562.0" y="811.7" width="846.9" height="88.4" fill="#fff" stroke="#000" stroke-width="2.0"/>
<text x="567.9" y="847.3" font-size="34">R:</text>
<text x="567.9" y="889.7" font-size="34">S:</text>
<line x1="613.2" y1="834.1" x2="687.6" y2="834.1" stroke="#515151" stroke-width="1.9" stroke-linecap="round"/>
<rect x="643.0" y="828.0" width="16.0" height="16.0" fill="#515151"/>
<text x="696.7" y="847.3" font-size="33.5" textLength="156.3" lengthAdjust="spacingAndGlyphs">YZ01-1413</text>
<line x1="863.9" y1="834.1" x2="940.0" y2="834.1" stroke="#f14040" stroke-width="1.9" stroke-linecap="round"/>
<circle cx="902.0" cy="836.0" r="9.8" fill="#f14040"/>
<text x="946.9" y="847.3" font-size="33.5" textLength="142.4" lengthAdjust="spacingAndGlyphs">LC05-136</text>
<line x1="1098.9" y1="834.1" x2="1175.2" y2="834.1" stroke="#1a6fdf" stroke-width="1.9" stroke-linecap="round"/>
<polygon points="1137.1,824.2 1127.2,840.8 1146.9,840.8" fill="#1a6fdf"/>
<text x="1182.5" y="847.3" font-size="33.5" textLength="220.6" lengthAdjust="spacingAndGlyphs">Yacheng05-179</text>
<line x1="620.1" y1="877.7" x2="696.2" y2="877.7" stroke="#37ad6b" stroke-width="1.9" stroke-linecap="round"/>
<polygon points="658.3,889.3 648.5,871.9 668.1,871.9" fill="#37ad6b"/>
<text x="705.0" y="889.7" font-size="33.5" textLength="108.2" lengthAdjust="spacingAndGlyphs">ROC22</text>
<line x1="822.1" y1="877.7" x2="898.0" y2="877.7" stroke="#b177de" stroke-width="1.9" stroke-linecap="round"/>
<polygon points="860.1,866.8 869.5,877.4 860.1,888.0 850.7,877.4" fill="#b177de"/>
<text x="906.7" y="889.7" font-size="33.5" textLength="140.3" lengthAdjust="spacingAndGlyphs">YZ03-103</text>
<line x1="1056.9" y1="877.7" x2="1131.8" y2="877.7" stroke="#cc9900" stroke-width="1.9" stroke-linecap="round"/>
<polygon points="1083.3,878.0 1101.8,868.2 1101.8,887.8" fill="#cc9900"/>
<text x="1140.7" y="889.7" font-size="33.5" textLength="79.4" lengthAdjust="spacingAndGlyphs">FN40</text>
</g>
</svg>
</body>
</html>
